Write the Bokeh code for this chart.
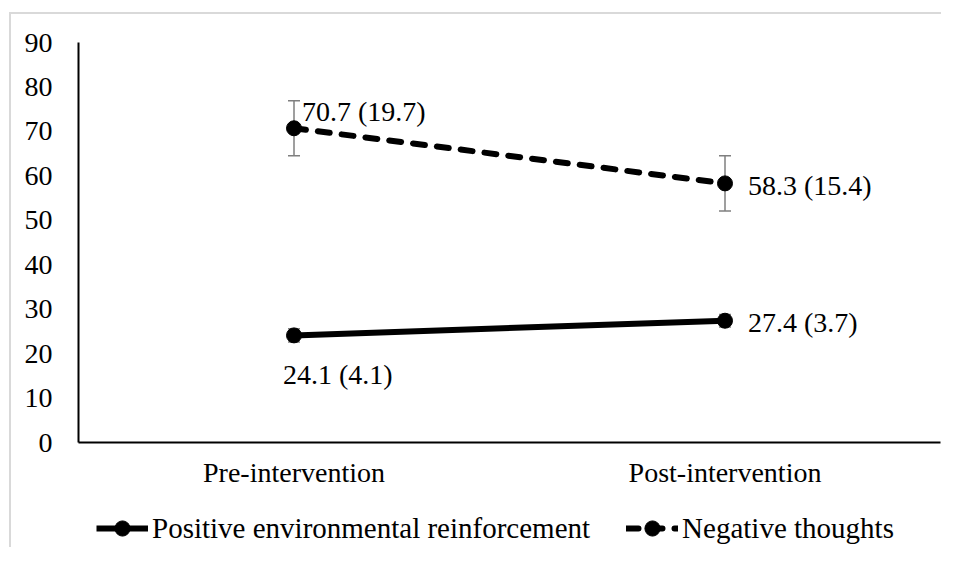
from bokeh.plotting import figure
from bokeh.layouts import column
from bokeh.models import (Range1d, FixedTicker, Whisker, ColumnDataSource, Legend,
                          LegendItem, TeeHead)
from bokeh.embed import file_html
from bokeh.resources import INLINE
from bokeh.core.properties import value

# ---- data ----
categories = ["Pre-intervention", "Post-intervention"]
positive_mean = [24.1, 27.4]
positive_sd = [4.1, 3.7]
positive_err = [1.5, 1.4]
negative_mean = [70.7, 58.3]
negative_sd = [19.7, 15.4]
negative_err = [6.2, 6.2]
y_ticks = [0, 10, 20, 30, 40, 50, 60, 70, 80, 90]
series_names = ["Positive environmental reinforcement", "Negative thoughts"]

FONT = "Liberation Serif"
FS = "28px"
W = 930

p = figure(x_range=categories, y_range=Range1d(0, 90), width=W, height=488,
           output_backend="svg", toolbar_location=None,
           min_border_left=67, min_border_right=1, min_border_top=28, min_border_bottom=60)
p.outline_line_color = None
p.xgrid.grid_line_color = None
p.ygrid.grid_line_color = None

p.yaxis.ticker = FixedTicker(ticks=y_ticks)
for ax in (p.xaxis[0], p.yaxis[0]):
    ax.axis_line_color = "black"
    ax.axis_line_width = 2
    ax.major_tick_line_color = None
    ax.minor_tick_line_color = None
    ax.major_tick_out = 0
    ax.major_tick_in = 0
    ax.major_label_text_font = FONT
    ax.major_label_text_font_size = FS
    ax.major_label_text_color = "black"
p.yaxis.major_label_standoff = 26
p.xaxis.major_label_standoff = 14

def mk(cats, vals, errs):
    return ColumnDataSource(dict(x=cats, y=vals,
                                 upper=[v + e for v, e in zip(vals, errs)],
                                 lower=[v - e for v, e in zip(vals, errs)]))

src_pos = mk(categories, positive_mean, positive_err)
src_neg = mk(categories, negative_mean, negative_err)

LINE_POS = dict(line_color="black", line_width=6)
LINE_NEG = dict(line_color="black", line_width=6, line_dash="12 12", line_cap="round")
MARK = dict(size=15, color="black")

p.line("x", "y", source=src_pos, **LINE_POS)
p.scatter("x", "y", source=src_pos, **MARK)
p.line("x", "y", source=src_neg, **LINE_NEG)
p.scatter("x", "y", source=src_neg, **MARK)

for src in (src_pos, src_neg):
    w = Whisker(source=src, base="x", upper="upper", lower="lower", dimension="height",
                line_color="#7f7f7f", line_width=1.5, level="underlay",
                upper_head=TeeHead(size=12, line_color="#7f7f7f", line_width=1.5),
                lower_head=TeeHead(size=12, line_color="#7f7f7f", line_width=1.5))
    p.add_layout(w)

def lab(cat, m, sd, align, xo, yo):
    p.text(x=[cat], y=[m], text=[f"{m} ({sd})"], text_font=value(FONT),
           text_font_size=FS, text_color="black", text_align=align,
           text_baseline="middle", x_offset=xo, y_offset=yo)

lab(categories[0], negative_mean[0], negative_sd[0], "left", 8, -17)
lab(categories[1], negative_mean[1], negative_sd[1], "left", 23, 2)
lab(categories[0], positive_mean[0], positive_sd[0], "left", -11, 39)
lab(categories[1], positive_mean[1], positive_sd[1], "left", 23, 2)

# ---- legend strip (small figure under the chart; its series lie outside its view) ----
lf = figure(width=W, height=45, x_range=categories, y_range=Range1d(1000, 1001),
            output_backend="svg", toolbar_location=None,
            min_border=0, min_border_left=0, min_border_right=0,
            min_border_top=0, min_border_bottom=0)
lf.axis.visible = False
lf.grid.visible = False
lf.outline_line_color = None
g_pos = [lf.line("x", "y", source=src_pos, **LINE_POS),
         lf.scatter("x", "y", source=src_pos, **MARK)]
g_neg = [lf.line("x", "y", source=src_neg, **LINE_NEG),
         lf.scatter("x", "y", source=src_neg, **MARK)]

legend = Legend(items=[LegendItem(label=series_names[0], renderers=g_pos),
                       LegendItem(label=series_names[1], renderers=g_neg)],
                orientation="horizontal", location=(18, 0),
                label_text_font=FONT, label_text_font_size="29px", label_text_color="black",
                glyph_width=52, glyph_height=38, label_standoff=4, spacing=36,
                padding=0, margin=0, border_line_color=None, background_fill_alpha=0)
lf.add_layout(legend, "center")

layout = column(p, lf, spacing=0, margin=(12, 0, 0, 9),
                styles={"border-top": "2px solid #d9d9d9", "border-left": "2px solid #d9d9d9"})

open("out.html", "w").write(file_html(layout, INLINE))
